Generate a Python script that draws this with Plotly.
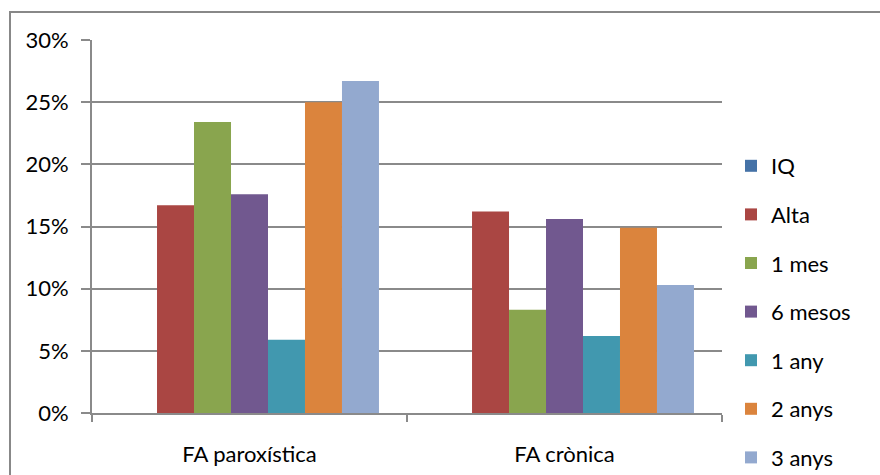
import plotly.graph_objects as go

# Categories and series (share of patients per follow-up point)
categories = ["FA paroxística", "FA crònica"]
series_names = ["IQ", "Alta", "1 mes", "6 mesos", "1 any", "2 anys", "3 anys"]
iq = [0.0, 0.0]
alta = [0.167, 0.162]
mes1 = [0.234, 0.083]
mesos6 = [0.176, 0.156]
any1 = [0.059, 0.062]
anys2 = [0.250, 0.149]
anys3 = [0.267, 0.103]
series_values = [iq, alta, mes1, mesos6, any1, anys2, anys3]
colors = ["#4572A7", "#AA4643", "#89A54E", "#71588F", "#4198AF", "#DB843D", "#93A9CF"]
y_ticks = [0, 0.05, 0.10, 0.15, 0.20, 0.25, 0.30]
y_tick_labels = ["0%", "5%", "10%", "15%", "20%", "25%", "30%"]

FONT = "Lato"
FS = 22
GRID = "#8a8a8a"

fig = go.Figure()
for i, (name, vals, col) in enumerate(zip(series_names, series_values, colors)):
    fig.add_trace(go.Bar(
        x=categories, y=vals, name=name,
        marker=dict(color=col, line=dict(width=0)),
        legendgroup=f"g{i}",
    ))

W, H = 880, 475
L, R, T, B = 92, 158, 40, 62
pw, ph = W - L - R, H - T - B

def px_x(p):
    return (p - L) / pw

def px_y(p):
    return (H - B - p) / ph

fig.update_layout(
    width=W, height=H,
    margin=dict(l=L, r=R, t=T, b=B, autoexpand=False),
    paper_bgcolor="white", plot_bgcolor="white",
    barmode="group", bargap=0.178, bargroupgap=0,
    font=dict(family=FONT, size=FS, color="black"),
    legend=dict(
        x=px_x(731), y=px_y(145), xanchor="left", yanchor="top",
        font=dict(family=FONT, size=FS, color="black"),
        tracegroupgap=17, itemclick=False, bgcolor="rgba(0,0,0,0)",
        maxheight=600,
    ),
    showlegend=True,
    shapes=[dict(
        type="rect", xref="paper", yref="paper",
        x0=px_x(10), x1=px_x(900), y0=px_y(500), y1=px_y(12),
        line=dict(color="#888888", width=2), fillcolor="rgba(0,0,0,0)", layer="below",
    )],
)

fig.update_xaxes(
    type="category", tickson="boundaries", ticks="outside", ticklen=7,
    tickcolor=GRID, tickwidth=1.8, showline=True, linecolor=GRID, linewidth=1.8,
    showgrid=False, ticklabelstandoff=21,
    tickfont=dict(family=FONT, size=FS, color="black"),
)
fig.update_yaxes(
    range=[0, 0.30], tickvals=y_ticks, ticktext=y_tick_labels,
    ticks="outside", ticklen=9, tickcolor=GRID, tickwidth=1.8,
    showline=True, linecolor=GRID, linewidth=1.8,
    showgrid=True, gridcolor=GRID, gridwidth=1.8, zeroline=False,
    ticklabelstandoff=8,
    tickfont=dict(family=FONT, size=FS, color="black"),
)

fig.write_html("out.html")
